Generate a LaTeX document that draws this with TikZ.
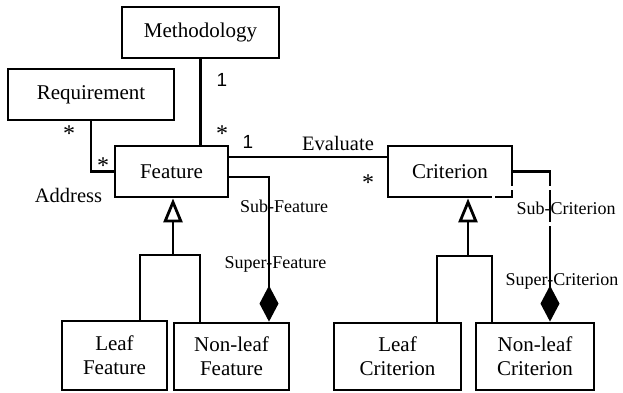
\documentclass[tikz,border=0pt]{standalone}
\usepackage{fontspec}
\setmainfont{Liberation Serif}
\newfontfamily\multfont{Liberation Sans}
\usetikzlibrary{arrows.meta}
\begin{document}
\begin{tikzpicture}[x=1pt,y=-1pt,
  cls/.style={draw, line width=2.8pt, inner sep=0pt, align=center,
    font=\fontsize{21}{24}\selectfont},
  link/.style={line width=2.8pt},
  gen/.style={link, -{Triangle[open, length=24pt, width=19pt]}},
  comp/.style={link, {Diamond[length=36pt, width=19pt]}-},
  role/.style={font=\fontsize{18}{20}\selectfont, anchor=base, inner sep=0pt},
  big/.style={font=\fontsize{20.5}{22}\selectfont, anchor=base, inner sep=0pt},
  mult/.style={font={\multfont\fontsize{19}{20}\selectfont}, anchor=base, inner sep=0pt},
  star/.style={font=\fontsize{24}{26}\selectfont, anchor=base, inner sep=0pt},
  labelframe/.style={draw=white, line width=3.5pt}]
\useasboundingbox (0,0) rectangle (623,392);

% classes
\node[cls, minimum width=157pt, minimum height=51pt] (meth) at (200.5,32.5) {Methodology};
\node[cls, minimum width=166pt, minimum height=51pt] (req)  at (91,94.5)    {Requirement};
\node[cls, minimum width=113pt, minimum height=51pt] (feat) at (171.5,171.5) {Feature};
\node[cls, minimum width=124pt, minimum height=51pt] (crit) at (450,171.5)  {Criterion};
\node[cls, minimum width=105pt, minimum height=69pt] (lf)   at (114.5,355.5) {Leaf\\Feature};
\node[cls, minimum width=115pt, minimum height=67pt] (nlf)  at (231.5,356.5) {Non-leaf\\Feature};
\node[cls, minimum width=127pt, minimum height=67pt] (lc)   at (397.5,356.5) {Leaf\\Criterion};
\node[cls, minimum width=118pt, minimum height=67pt] (nlc)  at (535,356.5)   {Non-leaf\\Criterion};

% associations
\draw[link] (meth.south) -- (meth.south |- feat.north);
\draw[link] (req.south) |- (feat.west);
\draw[link] ([yshift=14.5pt]feat.east) -- ([yshift=14.5pt]crit.west);

% compositions
\draw[comp] ([xshift=37.5pt]nlf.north) |- ([yshift=-5.5pt]feat.east);
\draw[comp] ([xshift=15pt]nlc.north) |- (crit.east);

% generalisations
\coordinate (gf) at (173,255);
\coordinate (gc) at (468,256);
\draw[gen] (gf) -- ([xshift=1.5pt]feat.south);
\draw[link] ([xshift=25.5pt]lf.north) |- (gf) -| ([xshift=-31.5pt]nlf.north);
\draw[gen] (gc) -- ([xshift=18pt]crit.south);
\draw[link] ([xshift=39.5pt]lc.north) |- (gc) -| ([xshift=-43pt]nlc.north);

% white frame of the Sub-Criterion label box, cutting the lines it crosses
\draw[labelframe] (493.5,188) rectangle (640,224);

% multiplicities and role names
\node[mult] (m1) at (222,86) {1};
\node[star] (s1) at (222,141) {*};
\node[star] (s2) at (69,141) {*};
\node[star] (s3) at (103,173) {*};
\node[big]  (addr) at (68.5,202) {Address};
\node[mult] (m2) at (248,148) {1};
\node[big]  (eval) at (338,150) {Evaluate};
\node[star] (s4) at (368,190) {*};
\node[role] (subf) at (284,212) {Sub-Feature};
\node[role] (supf) at (275.5,268) {Super-Feature};
\node[role] (subc) at (566,214) {Sub-Criterion};
\node[role] (supc) at (562,285) {Super-Criterion};
\end{tikzpicture}
\end{document}
